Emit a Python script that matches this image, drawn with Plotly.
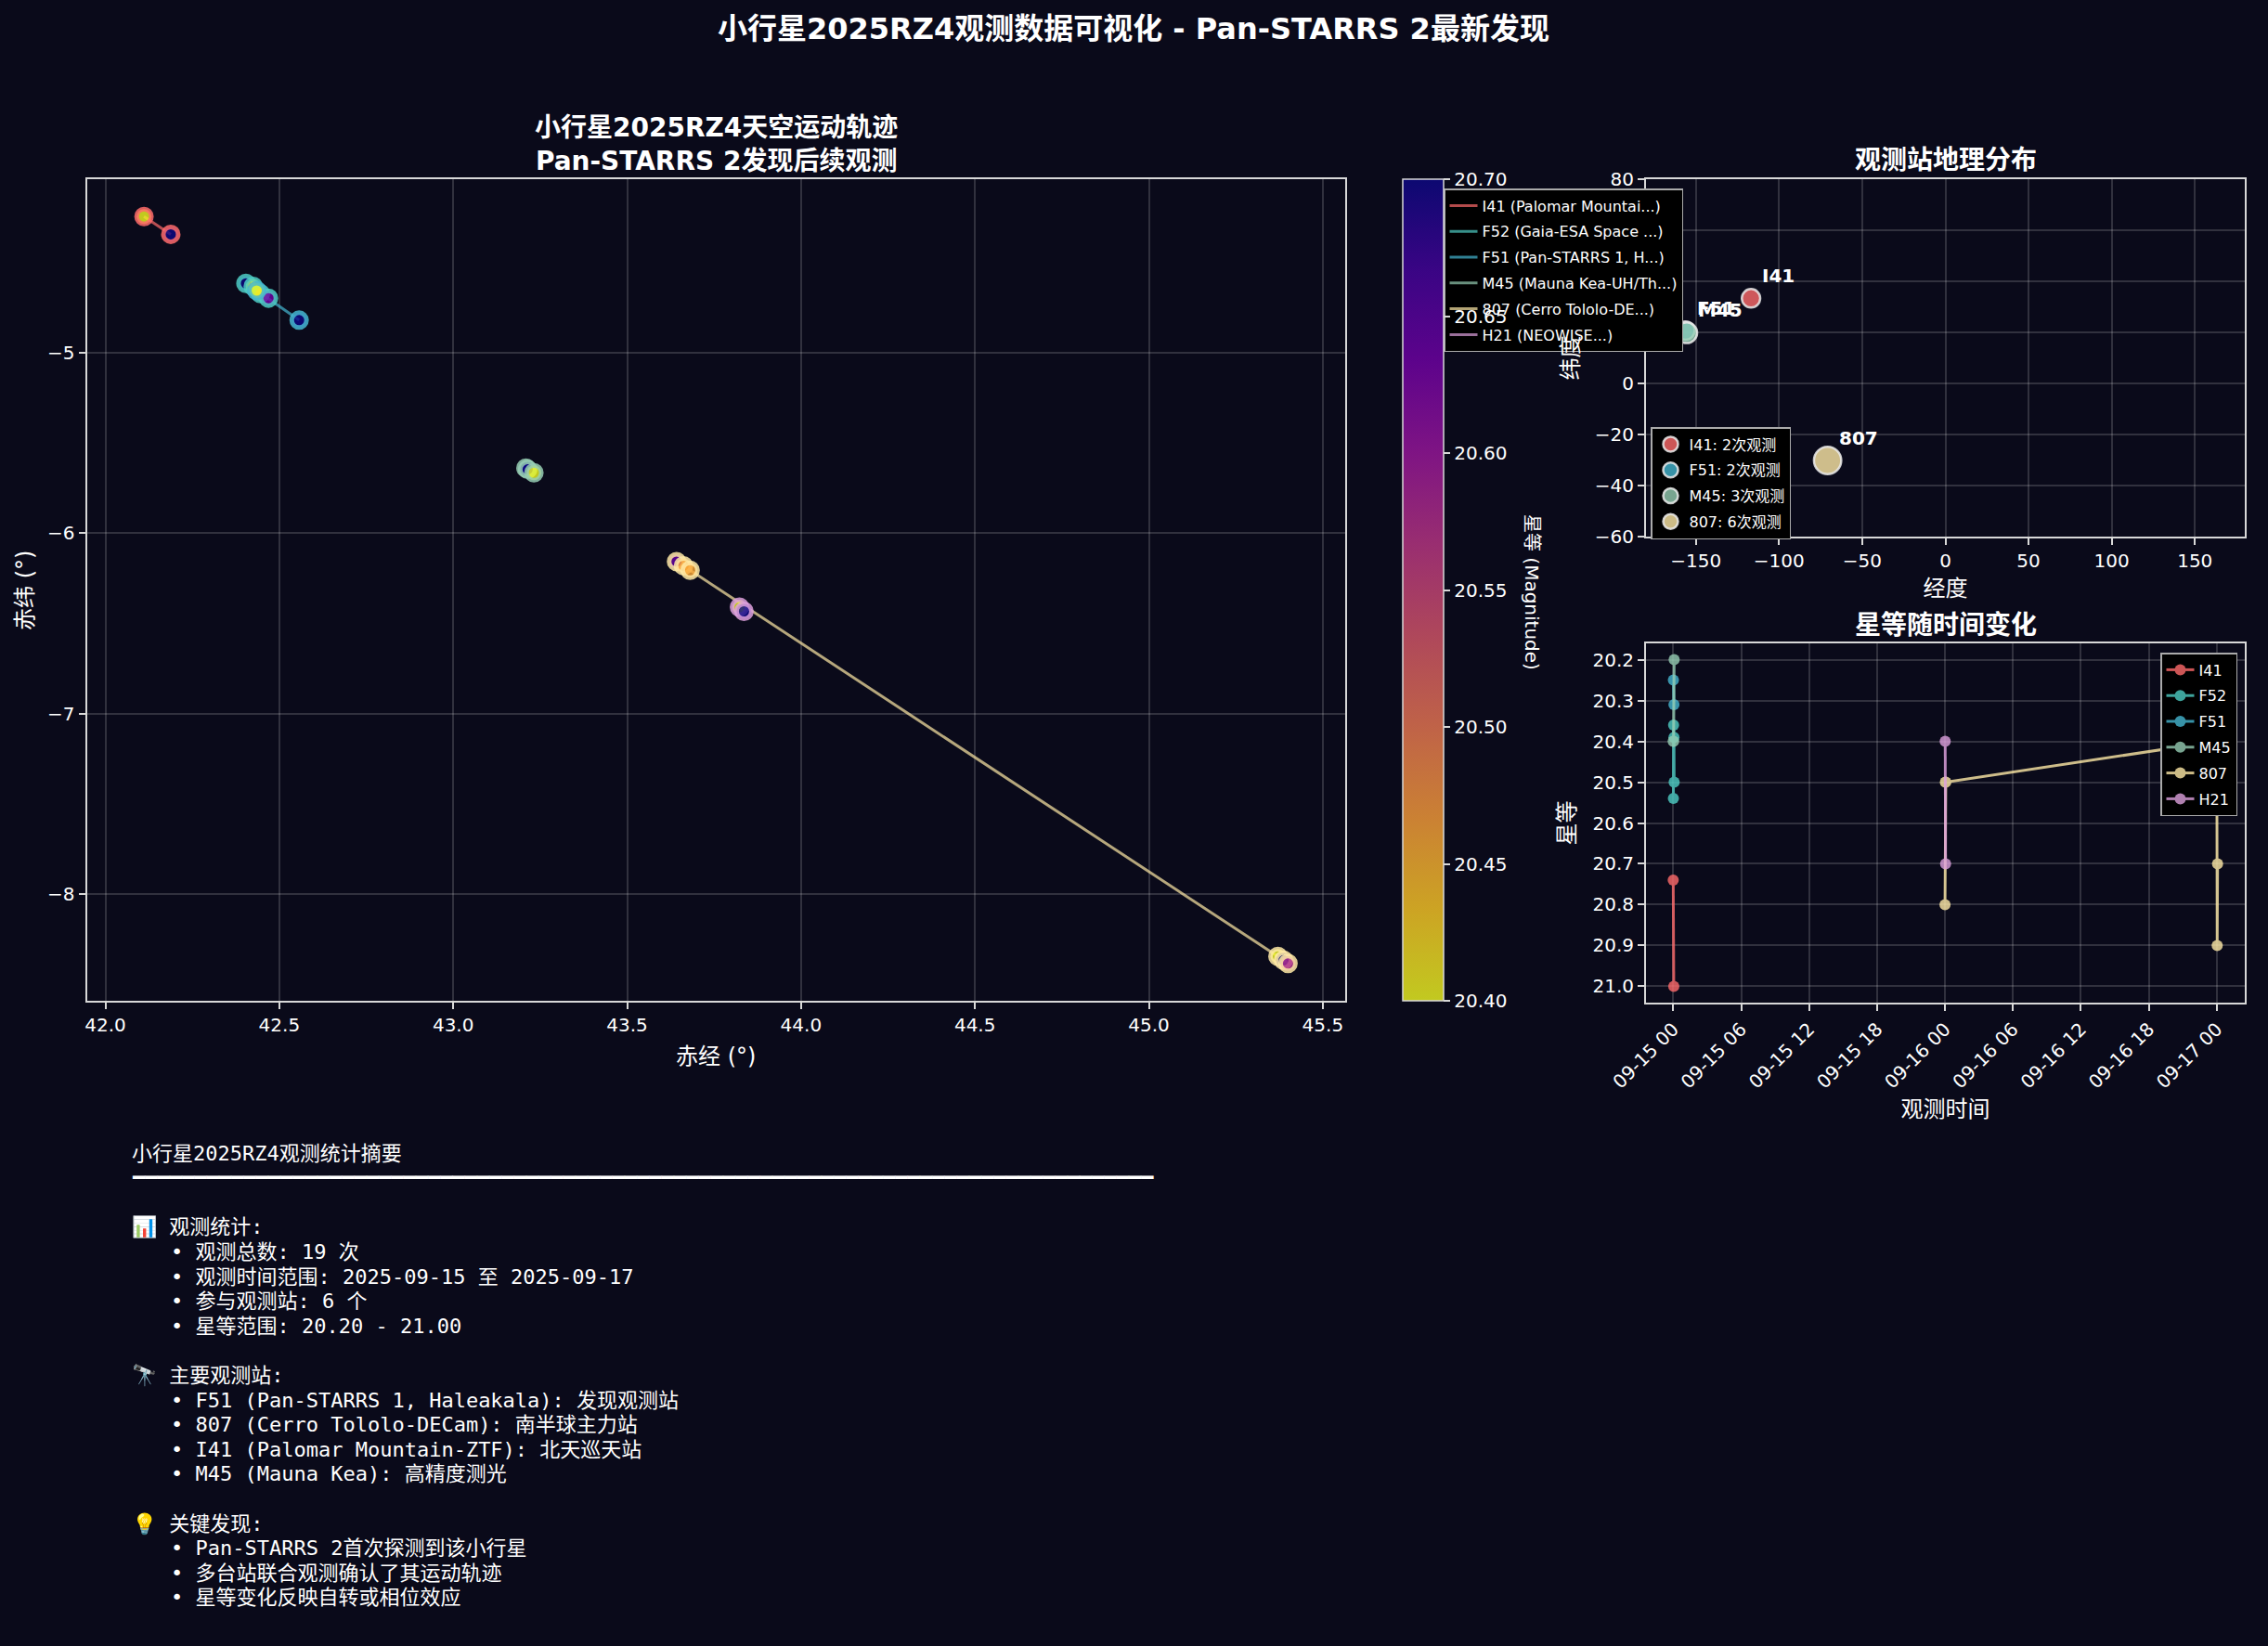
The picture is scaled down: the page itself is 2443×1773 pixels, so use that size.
import plotly.graph_objects as go
import plotly.colors as pc
import pandas as pd
from collections import Counter

W, H = 2443, 1773
BG = '#0a0a1a'
FG = '#ffffff'
SPINE = '#d8d8d8'
GRID = 'rgba(255,255,255,0.16)'
FONT = 'DejaVu Sans, Noto Sans CJK SC, sans-serif'
MONO = 'DejaVu Sans Mono, Noto Sans CJK SC, monospace'

# ---------------- data ----------------
obs_codes = ['I41', 'F52', 'F51', 'M45', '807', 'H21']
obs_colors = ['#FF6B6B', '#4ECDC4', '#45B7D1', '#96CEB4', '#FFEAA7', '#DDA0DD']
obs_legend = ['I41 (Palomar Mountai...)', 'F52 (Gaia-ESA Space ...)', 'F51 (Pan-STARRS 1, H...)',
              'M45 (Mauna Kea-UH/Th...)', '807 (Cerro Tololo-DE...)', 'H21 (NEOWISE...)']

obs_station = ['I41', 'I41', 'F52', 'F52', 'F52', 'F52', 'F51', 'F51', 'M45', 'M45', 'M45',
               '807', '807', '807', '807', '807', '807', 'H21', 'H21']
obs_time = ['2025-09-15 00:00', '2025-09-15 00:03',
            '2025-09-15 00:01', '2025-09-15 00:02', '2025-09-15 00:04', '2025-09-15 00:05',
            '2025-09-15 00:01', '2025-09-15 00:04',
            '2025-09-15 00:00', '2025-09-15 00:02', '2025-09-15 00:05',
            '2025-09-16 00:00', '2025-09-16 00:02', '2025-09-16 00:04',
            '2025-09-17 00:00', '2025-09-17 00:02', '2025-09-17 00:04',
            '2025-09-16 00:01', '2025-09-16 00:03']
obs_ra = [42.111, 42.188,
          42.404, 42.425, 42.446, 42.469,
          42.435, 42.557,
          43.209, 43.214, 43.232,
          43.642, 43.662, 43.681, 45.371, 45.387, 45.400,
          43.823, 43.836]
obs_dec = [-4.242, -4.341,
           -4.613, -4.630, -4.670, -4.695,
           -4.653, -4.817,
           -5.638, -5.645, -5.664,
           -6.157, -6.180, -6.205, -8.348, -8.369, -8.387,
           -6.410, -6.433]
obs_mag = [20.74, 21.00,
           20.54, 20.36, 20.39, 20.50,
           20.25, 20.31,
           20.40, 20.40, 20.20,
           20.80, 20.50, 20.50, 20.40, 20.90, 20.70,
           20.40, 20.70]

site_codes = ['I41', 'F51', 'M45', '807']
site_lon = [-116.86, -156.26, -155.47, -70.81]
site_lat = [33.36, 20.71, 19.83, -30.17]

panel_title = '小行星2025RZ4观测统计摘要'
station_notes = ['F51 (Pan-STARRS 1, Haleakala): 发现观测站',
                 '807 (Cerro Tololo-DECam): 南半球主力站',
                 'I41 (Palomar Mountain-ZTF): 北天巡天站',
                 'M45 (Mauna Kea): 高精度测光']
findings = ['Pan-STARRS 2首次探测到该小行星',
            '多台站联合观测确认了其运动轨迹',
            '星等变化反映自转或相位效应']

# ---------------- helpers ----------------
df = pd.DataFrame({'station': obs_station, 'time': pd.to_datetime(obs_time),
                   'ra': obs_ra, 'dec': obs_dec, 'mag': obs_mag})
color_of = dict(zip(obs_codes, obs_colors))


def rgba(hexc, a):
    r, g, b = pc.hex_to_rgb(hexc)
    return f'rgba({r},{g},{b},{a})'


plasma = pc.sequential.Plasma
PLASMA_A = [[i / (len(plasma) - 1), rgba(c, 0.8)] for i, c in enumerate(plasma)]


def dom_x(a, b):
    return [a / W, b / W]


def dom_y(top, bottom):
    return [1 - bottom / H, 1 - top / H]


def pad(lo, hi, f=0.05):
    d = hi - lo
    return [lo - f * d, hi + f * d]


fig = go.Figure()

# ---------------- main trajectory plot ----------------
for code, lab in zip(obs_codes, obs_legend):
    sub = df[df.station == code].sort_values('time', kind='stable')
    fig.add_trace(go.Scatter(x=sub.ra, y=sub.dec, mode='lines', name=lab,
                             line=dict(color=rgba(color_of[code], 0.7), width=3),
                             legend='legend', legendgroup='m' + code,
                             xaxis='x', yaxis='y', hoverinfo='skip'))

for code in obs_codes:
    sub = df[df.station == code].sort_values('time', kind='stable')
    last = code == obs_codes[-1]
    marker = dict(size=16, color=sub.mag, colorscale=PLASMA_A, reversescale=True,
                  line=dict(color=rgba(color_of[code], 0.85), width=5),
                  showscale=last)
    if last:
        marker['colorbar'] = dict(
            x=1511 / W, xanchor='left', y=1 - 193 / H, yanchor='top',
            len=885 / H, lenmode='fraction', thickness=44, thicknessmode='pixels',
            xpad=0, ypad=0, outlinecolor=SPINE, outlinewidth=1.5,
            tick0=20.4, dtick=0.05, tickformat='.2f', ticks='outside', ticklen=7,
            tickcolor=SPINE, tickwidth=1.5, tickfont=dict(size=20, color=FG, family=FONT),
            bgcolor='rgba(0,0,0,0)')
    fig.add_trace(go.Scatter(x=sub.ra, y=sub.dec, mode='markers', marker=marker,
                             showlegend=False, xaxis='x', yaxis='y',
                             name=code))

# ---------------- observatory map ----------------
counts = Counter(obs_station)
for code, lon, lat in zip(site_codes, site_lon, site_lat):
    n = counts[code]
    fig.add_trace(go.Scatter(x=[lon], y=[lat], mode='markers', name=f'{code}: {n}次观测',
                             marker=dict(size=15 + 2.4 * n, color=rgba(color_of[code], 0.8),
                                         line=dict(color='rgba(235,235,235,0.85)', width=2.5)),
                             legend='legend2', legendgroup='s' + code,
                             xaxis='x2', yaxis='y2'))

# ---------------- light curve ----------------
for code in obs_codes:
    sub = df[df.station == code].sort_values('time', kind='stable')
    fig.add_trace(go.Scatter(x=sub.time, y=sub.mag, mode='lines+markers', name=code,
                             line=dict(color=color_of[code], width=3),
                             marker=dict(size=12, color=color_of[code]),
                             opacity=0.8, legend='legend3', legendgroup='l' + code,
                             xaxis='x3', yaxis='y3'))


# ---------------- axes ----------------
def axis_style(**kw):
    base = dict(showline=True, linecolor=SPINE, linewidth=2, mirror=True,
                ticks='outside', ticklen=7, tickwidth=1.5, tickcolor=SPINE,
                showgrid=True, gridcolor=GRID, gridwidth=1.5, zeroline=False,
                automargin=False,
                tickfont=dict(size=20, color=FG, family=FONT),
                title_font=dict(size=24, color=FG, family=FONT))
    base.update(kw)
    return base


ra_rng = pad(df.ra.min(), df.ra.max())
dec_rng = pad(df.dec.min(), df.dec.max())
t0, t1 = df.time.min(), df.time.max()
t_rng = [t0 - 0.05 * (t1 - t0), t1 + 0.05 * (t1 - t0)]
mag_rng = pad(df.mag.min(), df.mag.max())

fig.update_layout(
    xaxis=axis_style(domain=dom_x(93.5, 1449), anchor='y', range=ra_rng,
                     tick0=42.0, dtick=0.5, tickformat='.1f',
                     title=dict(text='赤经 (°)', standoff=14)),
    yaxis=axis_style(domain=dom_y(193, 1078), anchor='x', range=dec_rng,
                     tick0=-8, dtick=1),
    xaxis2=axis_style(domain=dom_x(1773, 2418), anchor='y2', range=[-180, 180],
                      tick0=-150, dtick=50,
                      title=dict(text='经度', standoff=10)),
    yaxis2=axis_style(domain=dom_y(193, 578), anchor='x2', range=[-60, 80],
                      tick0=-60, dtick=20,
                      title=dict(text='纬度', standoff=10)),
    xaxis3=axis_style(domain=dom_x(1773, 2418), anchor='y3', type='date',
                      range=t_rng, tick0='2025-09-15 00:00', dtick=6 * 3600 * 1000,
                      tickformat='%m-%d %H', tickangle=-45,
                      title=dict(text='观测时间', standoff=10)),
    yaxis3=axis_style(domain=dom_y(693, 1080), anchor='x3',
                      range=[mag_rng[1], mag_rng[0]], tick0=20.2, dtick=0.1, tickformat='.1f',
                      title=dict(text='星等', standoff=12)),
)

legend_common = dict(bgcolor='#000000', bordercolor='#aaaaaa', borderwidth=1.5,
                     font=dict(size=16, color=FG, family=FONT), traceorder='grouped',
                     xref='paper', yref='paper')
fig.update_layout(
    legend=dict(x=1555 / W, xanchor='left', y=1 - 203 / H, yanchor='top',
                tracegroupgap=4, **legend_common),
    legend2=dict(x=1778 / W, xanchor='left', y=1 - 460 / H, yanchor='top',
                 tracegroupgap=4, itemsizing='trace', **legend_common),
    legend3=dict(x=2410 / W, xanchor='right', y=1 - 703 / H, yanchor='top',
                 tracegroupgap=4, **legend_common),
)

# ---------------- annotations ----------------
ann = []


def txt(text, xpx, ypx, size, bold=False, family=FONT, xanchor='center', angle=0,
        xref='paper', yref='paper', **kw):
    ann.append(dict(text=f'<b>{text}</b>' if bold else text,
                    x=xpx / W if xref == 'paper' else xpx,
                    y=1 - ypx / H if yref == 'paper' else ypx,
                    xref=xref, yref=yref, xanchor=xanchor, yanchor='middle',
                    showarrow=False, textangle=angle,
                    font=dict(size=size, color=FG, family=family), **kw))


txt('小行星2025RZ4观测数据可视化 - Pan-STARRS 2最新发现', 1221, 31, 32, bold=True)
txt('小行星2025RZ4天空运动轨迹<br>Pan-STARRS 2发现后续观测', 771, 155, 28, bold=True)
txt('观测站地理分布', 2096, 173, 28, bold=True)
txt('星等随时间变化', 2096, 673, 28, bold=True)
txt('星等 (Magnitude)', 1650, 638, 20, angle=90)
txt('赤纬 (°)', 27, 636, 24, angle=-90)

# map site labels
for code, lon, lat in zip(site_codes, site_lon, site_lat):
    ann.append(dict(text=f'<b>{code}</b>', x=lon, y=lat, xref='x2', yref='y2',
                    xanchor='left', yanchor='bottom', xshift=10, yshift=10,
                    showarrow=False, font=dict(size=20, color=FG, family=FONT)))

# summary text panel
n_obs = len(df)
n_sites = df.station.nunique()
stat_lines = [f'观测总数: {n_obs} 次',
              f'观测时间范围: {t0:%Y-%m-%d} 至 {t1:%Y-%m-%d}',
              f'参与观测站: {n_sites} 个',
              f'星等范围: {df.mag.min():.2f} - {df.mag.max():.2f}']
panel = [(panel_title, 0), ('━' * 83, 0), ('', 0), ('📊 观测统计:', 0)]
panel += [('• ' + s, 1) for s in stat_lines]
panel += [('', 0), ('🔭 主要观测站:', 0)]
panel += [('• ' + s, 1) for s in station_notes]
panel += [('', 0), ('💡 关键发现:', 0)]
panel += [('• ' + s, 1) for s in findings]

y0, step = 1242, 26.6
for i, (line, indent) in enumerate(panel):
    if line:
        txt(line, 140 + 42 * indent, y0 + i * step, 22, family=MONO, xanchor='left')

fig.update_layout(
    annotations=ann,
    width=W, height=H, margin=dict(l=0, r=0, t=0, b=0),
    paper_bgcolor=BG, plot_bgcolor=BG,
    font=dict(family=FONT, color=FG),
)

fig.write_html('out.html')
